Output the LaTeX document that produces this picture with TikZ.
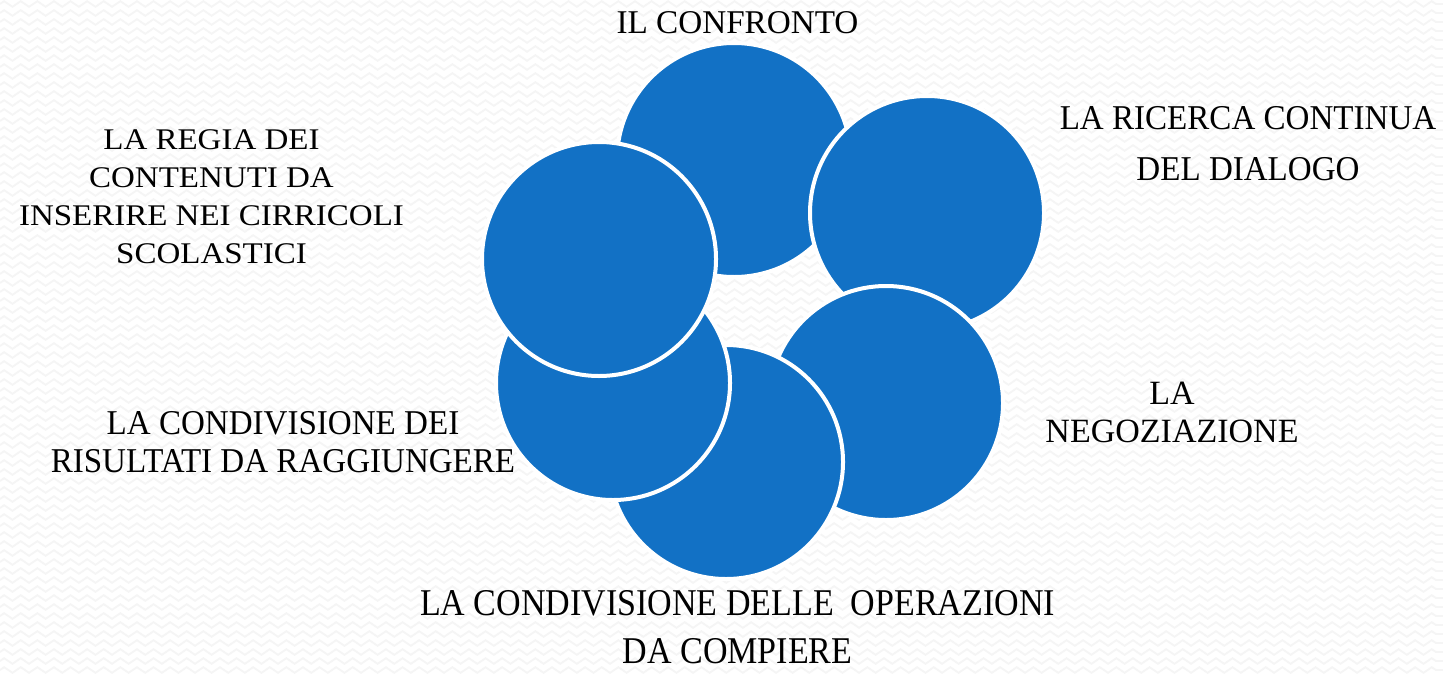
\documentclass[tikz,border=0pt]{standalone}
\usepackage{fontspec}
\setmainfont{Liberation Serif}
\newfontfamily\narrowfont[FakeStretch=0.9]{Liberation Serif}
\newfontfamily\slimfont[FakeStretch=0.95]{Liberation Serif}
\newfontfamily\widefont[FakeStretch=1.1]{Liberation Serif}
\usetikzlibrary{decorations.pathmorphing}
\definecolor{cycleblue}{RGB}{18,113,197}
\tikzset{
  wave/.style={black!4, line width=0.9pt, decorate,
    decoration={zigzag, segment length=8.3pt, amplitude=1.4pt}},
  bubble/.style={circle, fill=cycleblue, draw=white, line width=2pt,
    minimum size=117pt, inner sep=0pt},
  lbl/.style={align=center, text=black, inner sep=0pt, anchor=base},
}

\begin{document}
\begin{tikzpicture}[x=0.5pt,y=-0.5pt]
  \useasboundingbox (0,0) rectangle (1443,674);
  \fill[white] (0,0) rectangle (1443,674);
  \foreach \r in {4,13,...,674}
    \draw[wave] (0,\r) -- (1443,\r);
  % circles, back to front
  \node[bubble] (confronto) at (734,160) {};
  \node[bubble] (dialogo) at (927,213) {};
  \node[bubble] (negoziazione) at (886,403) {};
  \node[bubble] (operazioni) at (726,462) {};
  \node[bubble] (risultati) at (613,383) {};
  \node[bubble] (regia) at (599,259) {};
  % labels (base = last line)
  \node[lbl, font=\fontsize{16.6}{20}\selectfont] (tconfronto) at (737.5,34) {IL CONFRONTO};
  \node[lbl, font=\slimfont\fontsize{17.4}{25.5}\selectfont] (tdialogo) at (1248,180) {LA RICERCA CONTINUA\\DEL DIALOGO};
  \node[lbl, font=\fontsize{17}{19}\selectfont] (tnegoziazione) at (1172,442) {LA\\NEGOZIAZIONE};
  \node[lbl, font=\narrowfont\fontsize{18.9}{24}\selectfont] (toperazioni) at (737.5,663) {LA CONDIVISIONE DELLE\ \ OPERAZIONI\\DA COMPIERE};
  \node[lbl, font=\slimfont\fontsize{17.4}{19}\selectfont] (trisultati) at (283,472) {LA CONDIVISIONE DEI\\RISULTATI DA RAGGIUNGERE};
  \node[lbl, font=\widefont\fontsize{15}{19}\selectfont] (tregia) at (211.5,263) {LA REGIA DEI\\CONTENUTI DA\\INSERIRE NEI CIRRICOLI\\SCOLASTICI};
\end{tikzpicture}
\end{document}
